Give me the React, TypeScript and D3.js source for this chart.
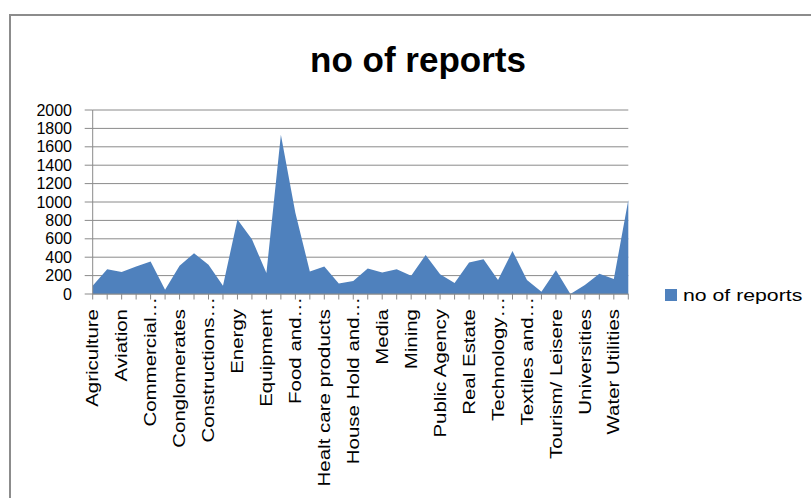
import React from "react";
import * as d3 from "d3";

const title = "no of reports";
const seriesName = "no of reports";

const categories = [
  "Agriculture", "Automotive", "Aviation", "Banking", "Commercial services",
  "Communications", "Conglomerates", "Construction materials", "Constructions and engineering", "Consumer goods",
  "Energy", "Engineering", "Equipment", "Financial services", "Food and beverage",
  "Forestry", "Healt care products", "Hotels", "House Hold and personal products", "Manufacturing",
  "Media", "Metals", "Mining", "Oil and gas", "Public Agency",
  "Publishing", "Real Estate", "Retail", "Technology hardware", "Telecommunications",
  "Textiles and apparel", "Tobacco", "Tourism/ Leisere", "Transport", "Universities",
  "Waste Management", "Water Utilities", "Wholesale",
];

const values = [
  90, 270, 240, 300, 353, 47, 306, 443, 317, 90,
  810, 595, 227, 1730, 883, 245, 300, 115, 140, 277,
  234, 270, 198, 425, 216, 119, 342, 378, 151, 468,
  151, 25, 259, 0, 97, 220, 162, 1022,
];

const tickLabels = [
  "Agriculture", "Aviation", "Commercial…", "Conglomerates", "Constructions…",
  "Energy", "Equipment", "Food and…", "Healt care products", "House Hold and…",
  "Media", "Mining", "Public Agency", "Real Estate", "Technology…",
  "Textiles and…", "Tourism/ Leisere", "Universities", "Water Utilities",
];

const yTicks = [0, 200, 400, 600, 800, 1000, 1200, 1400, 1600, 1800, 2000];

const W = 811;
const H = 498;
const left = 92.7;
const right = 628.3;
const top = 110;
const bottom = 294;
const FILL = "#4F81BD";
const GRID = "#8a8a8a";
const FONT = "'Liberation Sans', Arial, sans-serif";

export default function App() {
  const x = d3.scalePoint<string>().domain(categories).range([left, right]);
  const y = d3.scaleLinear().domain([0, 2000]).range([bottom, top]);
  const data = categories.map((c, i) => ({ c, v: values[i] }));
  const area = d3
    .area<{ c: string; v: number }>()
    .x((d) => x(d.c) as number)
    .y0(y(0))
    .y1((d) => y(d.v));

  return (
    <svg
      width={W}
      height={H}
      style={{ position: "absolute", left: 0, top: 0, background: "#fff" }}
      fontFamily={FONT}
    >
      <rect x={0} y={0} width={W} height={H} fill="#fff" />
      <rect x={10} y={15} width={900} height={600} fill="none" stroke="#8c8c8c" strokeWidth={2} />

      <text
        transform={`translate(418, 72) scale(1.03,1.05)`}
        textAnchor="middle"
        fontSize={34}
        fontWeight="bold"
        fill="#000"
      >
        {title}
      </text>

      {yTicks.map((t) => (
        <line key={"g" + t} x1={left} x2={right} y1={y(t)} y2={y(t)} stroke={GRID} strokeWidth={1} />
      ))}

      <path d={area(data) || ""} fill={FILL} />

      <line x1={left} x2={left} y1={top} y2={bottom} stroke={GRID} strokeWidth={1} />
      <line x1={left} x2={right} y1={bottom} y2={bottom} stroke={GRID} strokeWidth={1} />
      {yTicks.map((t) => (
        <line key={"yt" + t} x1={left - 8} x2={left} y1={y(t)} y2={y(t)} stroke={GRID} strokeWidth={1} />
      ))}
      {categories.map((c) => (
        <line key={"xt" + c} x1={x(c)} x2={x(c)} y1={bottom} y2={bottom + 5.5} stroke={GRID} strokeWidth={1} />
      ))}

      {yTicks.map((t) => (
        <text
          key={"yl" + t}
          x={72}
          y={y(t)}
          textAnchor="end"
          dominantBaseline="central"
          fontSize={16}
          fill="#000"
        >
          {t}
        </text>
      ))}

      {tickLabels.map((lab, i) => {
        const cx = x(categories[i * 2]) as number;
        const truncated = lab.endsWith("…");
        const yEnd = truncated ? 297 : 309;
        return (
          <text
            key={"xl" + i}
            transform={`translate(${cx}, ${yEnd}) rotate(-90) scale(1.28,1)`}
            textAnchor="end"
            dominantBaseline="central"
            fontSize={16}
            fill="#000"
          >
            {lab}
          </text>
        );
      })}

      <rect x={665} y={289} width={12} height={12} fill={FILL} />
      <text
        transform="translate(683, 295) scale(1.25,1)"
        dominantBaseline="central"
        fontSize={17}
        fill="#000"
      >
        {seriesName}
      </text>
    </svg>
  );
}
